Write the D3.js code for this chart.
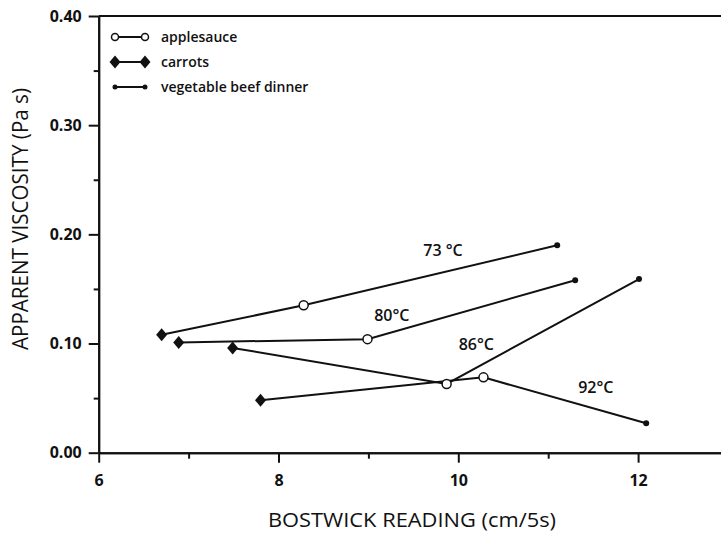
<!DOCTYPE html>
<html>
<head>
<meta charset="utf-8">
<script src="https://cdn.jsdelivr.net/npm/d3@7"></script>
<style>
  body { margin: 0; background: #fff; }
  text { font-family: "Open Sans", sans-serif; fill: #111; }
</style>
</head>
<body>
<svg id="chart"></svg>
<script>
// temperature series: each line joins carrots -> applesauce -> vegetable beef dinner
var temps = ["73 °C", "80°C", "86°C", "92°C"];
var carrotsX = [6.70, 6.89, 7.49, 7.80];
var carrotsY = [0.108, 0.101, 0.096, 0.048];
var appleX = [8.28, 8.99, 9.87, 10.28];
var appleY = [0.135, 0.104, 0.063, 0.069];
var vegX = [11.10, 11.30, 12.01, 12.09];
var vegY = [0.190, 0.158, 0.159, 0.027];
// where the temperature labels sit, in data units
var labelX = [9.83, 9.26, 10.20, 11.53];
var labelY = [0.180, 0.121, 0.094, 0.055];

var xMajor = [6, 8, 10, 12];
var xMinor = [7, 9, 11, 13];
var yMajor = [0, 0.1, 0.2, 0.3, 0.4];
var yMinor = [0.05, 0.15, 0.25, 0.35];
var legendNames = ["applesauce", "carrots", "vegetable beef dinner"];

var w = 721,
  h = 533,
  padLeft = 98.7,
  padTop = 16,
  axisY = 452.7,
  unit = 89.9;

var svg = d3.select("#chart").attr("width", w).attr("height", h);

var x = d3.scaleLinear().domain([6, 14]).range([padLeft, padLeft + 8 * unit]);
var y = d3.scaleLinear().domain([0, 0.4]).range([axisY, padTop]);

var fmt = d3.format(".2f");

function styleAxis(g) {
  g.selectAll("path, line").attr("stroke", "#111").attr("stroke-width", 2);
  g.selectAll("text")
    .style("font-family", '"Open Sans", sans-serif')
    .style("font-size", "16px")
    .style("font-weight", 700)
    .attr("fill", "#111");
}

// x axis
svg.append("g")
  .attr("transform", "translate(0," + axisY + ")")
  .call(d3.axisBottom(x).tickValues(xMinor).tickSize(6).tickSizeOuter(0).tickFormat(""))
  .call(styleAxis);
svg.append("g")
  .attr("transform", "translate(0," + axisY + ")")
  .call(d3.axisBottom(x).tickValues(xMajor).tickSize(10).tickSizeOuter(0).tickPadding(12))
  .call(styleAxis);

// y axis
svg.append("g")
  .attr("transform", "translate(" + padLeft + ",0)")
  .call(d3.axisLeft(y).tickValues(yMinor).tickSize(5).tickSizeOuter(0).tickFormat(""))
  .call(styleAxis);
svg.append("g")
  .attr("transform", "translate(" + padLeft + ",0)")
  .call(d3.axisLeft(y).tickValues(yMajor).tickSize(10).tickSizeOuter(0).tickPadding(7).tickFormat(fmt))
  .call(styleAxis);

// top frame line
svg.append("line")
  .attr("x1", padLeft).attr("x2", x(14))
  .attr("y1", y(0.4)).attr("y2", y(0.4))
  .attr("stroke", "#111").attr("stroke-width", 2);

// axis titles
svg.append("text")
  .attr("x", 412).attr("y", 527)
  .attr("text-anchor", "middle")
  .attr("textLength", 288).attr("lengthAdjust", "spacingAndGlyphs")
  .style("font-size", "20px")
  .style("font-weight", 500)
  .text("BOSTWICK READING (cm/5s)");

svg.append("text")
  .attr("transform", "translate(28,219) rotate(-90)")
  .attr("text-anchor", "middle")
  .attr("textLength", 262).attr("lengthAdjust", "spacingAndGlyphs")
  .style("font-size", "22px")
  .style("font-weight", 500)
  .text("APPARENT VISCOSITY (Pa s)");

// lines
var line = d3.line().x(function (d) { return x(d[0]); }).y(function (d) { return y(d[1]); });
var series = temps.map(function (t, i) {
  return [[carrotsX[i], carrotsY[i]], [appleX[i], appleY[i]], [vegX[i], vegY[i]]];
});

svg.selectAll("path.temp")
  .data(series)
  .enter()
  .append("path")
  .attr("class", "temp")
  .attr("d", line)
  .attr("fill", "none")
  .attr("stroke", "#111")
  .attr("stroke-width", 2);

var diamond = "M0,-6.5L5.5,0L0,6.5L-5.5,0Z";

svg.selectAll("path.carrot")
  .data(carrotsX)
  .enter()
  .append("path")
  .attr("class", "carrot")
  .attr("d", diamond)
  .attr("transform", function (d, i) { return "translate(" + x(d) + "," + y(carrotsY[i]) + ")"; })
  .attr("fill", "#111");

svg.selectAll("circle.apple")
  .data(appleX)
  .enter()
  .append("circle")
  .attr("class", "apple")
  .attr("cx", function (d) { return x(d); })
  .attr("cy", function (d, i) { return y(appleY[i]); })
  .attr("r", 4.5)
  .attr("fill", "#fff")
  .attr("stroke", "#111")
  .attr("stroke-width", 1.5);

svg.selectAll("circle.veg")
  .data(vegX)
  .enter()
  .append("circle")
  .attr("class", "veg")
  .attr("cx", function (d) { return x(d); })
  .attr("cy", function (d, i) { return y(vegY[i]); })
  .attr("r", 3)
  .attr("fill", "#111");

// temperature labels
svg.selectAll("text.temp")
  .data(temps)
  .enter()
  .append("text")
  .attr("class", "temp")
  .attr("x", function (d, i) { return x(labelX[i]); })
  .attr("y", function (d, i) { return y(labelY[i]); })
  .attr("text-anchor", "middle")
  .style("font-size", "16px")
  .style("font-weight", 600)
  .text(function (d) { return d; });

// legend
var legend = svg.append("g").attr("transform", "translate(115,37)");
legendNames.forEach(function (name, i) {
  var g = legend.append("g").attr("transform", "translate(0," + i * 25 + ")");
  g.append("line").attr("x1", 0).attr("x2", 30).attr("stroke", "#111").attr("stroke-width", 2);
  [0, 30].forEach(function (px) {
    if (i == 0)
      g.append("circle").attr("cx", px).attr("r", 3.5).attr("fill", "#fff")
        .attr("stroke", "#111").attr("stroke-width", 1.5);
    else if (i == 1)
      g.append("path").attr("d", diamond).attr("transform", "translate(" + px + ",0)").attr("fill", "#111");
    else
      g.append("circle").attr("cx", px).attr("r", 2.5).attr("fill", "#111");
  });
  g.append("text")
    .attr("x", 46).attr("y", 5)
    .style("font-size", "14px")
    .style("font-weight", 600)
    .text(name);
});
</script>
</body>
</html>
